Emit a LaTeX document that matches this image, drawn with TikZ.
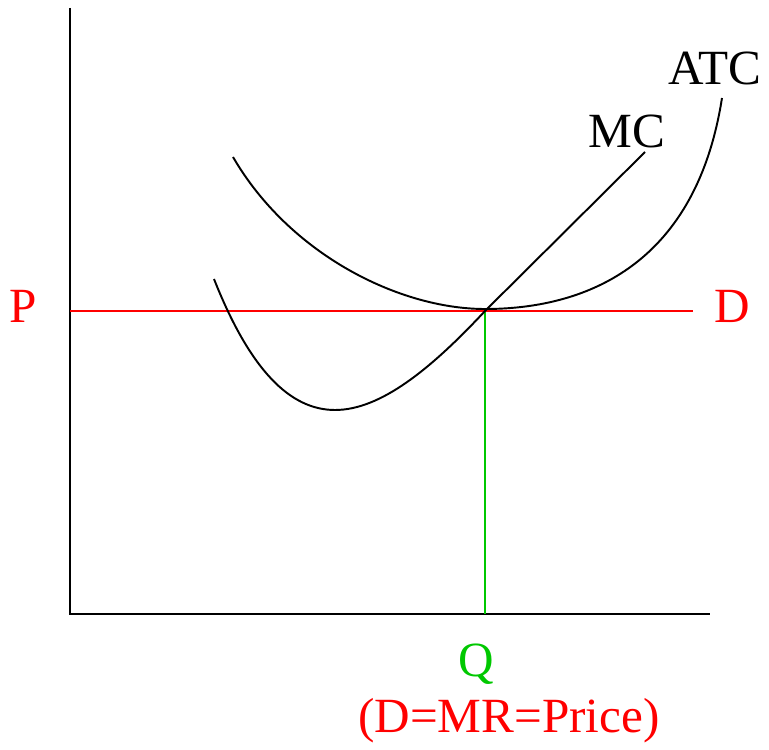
\documentclass[tikz,border=0pt]{standalone}
\usepackage{fontspec}
\setmainfont{Liberation Serif}
\definecolor{qgreen}{RGB}{0,200,0}

\begin{document}
\begin{tikzpicture}[x=0.02cm, y=-0.02cm, line width=1.1pt,
    lbl/.style={font=\fontsize{28}{34}\selectfont, anchor=base}]
    \useasboundingbox (0,0) rectangle (769,750);

    % Axes
    \coordinate (top) at (70,8);
    \coordinate (origin) at (70,614);
    \coordinate (right) at (710,614);
    \draw (top) -- (origin) -- (right);

    % Price line and quantity
    \coordinate (pleft) at (70,311);
    \coordinate (pright) at (693,311);
    \coordinate (eq) at (485,311);
    \coordinate (qfoot) at (485,614);
    \draw[qgreen] (eq) -- (qfoot);
    \draw[red] (pleft) -- (pright);

    % Cost curves
    \draw (233,157) .. controls (290,255) and (400,309) .. (485,309)
          .. controls (580,309) and (695,270) .. (722,98);
    \draw (214,279) .. controls (250,370) and (290,410) .. (335,410)
          .. controls (380,410) and (430,370) .. (eq) -- (645,152);

    % Labels
    \node[lbl, red] (plabel) at (23,323) {P};
    \node[lbl, red] (dlabel) at (732,323) {D};
    \node[lbl] (mclabel) at (627,148) {MC};
    \node[lbl] (atclabel) at (715,85) {ATC};
    \node[lbl, qgreen] (qlabel) at (476,677) {Q};
    \node[lbl, red] (mrlabel) at (509,733) {(D=MR=Price)};
\end{tikzpicture}
\end{document}
